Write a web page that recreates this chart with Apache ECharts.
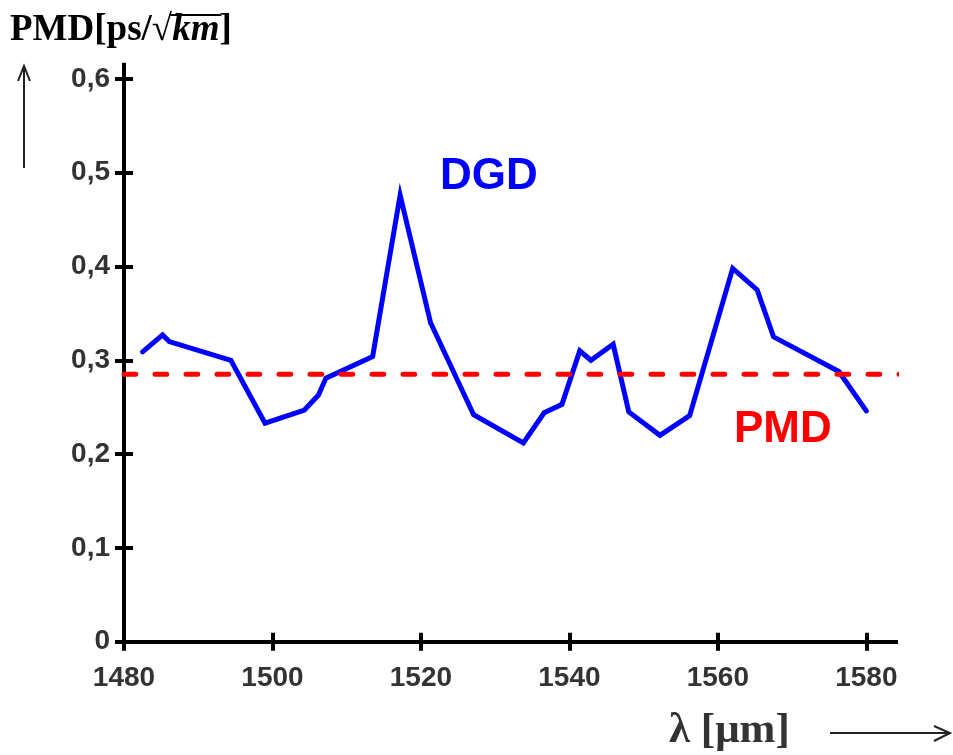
<!DOCTYPE html>
<html>
<head>
<meta charset="utf-8">
<script src="https://cdn.jsdelivr.net/npm/echarts@6/dist/echarts.min.js"></script>
<style>
  html, body { margin: 0; padding: 0; background: #fff; }
  #chart { width: 953px; height: 755px; }
</style>
</head>
<body>
<div id="chart"></div>
<script>
// Wavelength samples (as labelled on the axis) and measured DGD values
const wavelengths = [1482.5, 1485.2, 1486.1, 1494.4, 1499.0, 1504.3, 1506.2, 1507.2, 1513.5,
  1517.2, 1521.3, 1527.1, 1533.8, 1536.6, 1539.0, 1541.4, 1542.9, 1545.9, 1548.0,
  1552.2, 1556.2, 1562.0, 1565.3, 1567.5, 1576.3, 1580.0];
const dgdValues = [0.309, 0.327, 0.320, 0.300, 0.233, 0.247, 0.263, 0.281, 0.304,
  0.476, 0.340, 0.242, 0.212, 0.244, 0.253, 0.310, 0.300, 0.317, 0.245,
  0.220, 0.241, 0.398, 0.375, 0.325, 0.288, 0.246];

// Mean PMD level and the wavelength span of its reference line
const pmdValue = 0.285;
const pmdSpan = [1480, 1584.5];

// Tick positions
const xTicks = [1480, 1500, 1520, 1540, 1560, 1580];
const yTicks = [0, 0.1, 0.2, 0.3, 0.4, 0.5, 0.6];

const AXIS_BLACK = '#000';
const LABEL_GREY = '#333';

const chart = echarts.init(document.getElementById('chart'), null, { renderer: 'canvas' });

// Ticks cross the axis line: one axis draws them outward, a twin draws them inward
function xAxisDef(inside) {
  return {
    type: 'value', position: 'bottom', min: 1480, max: 1584,
    splitLine: { show: false },
    axisLine: { show: !inside, onZero: false, lineStyle: { color: AXIS_BLACK, width: 4, cap: 'square' } },
    axisTick: { show: true, inside: inside, length: 9, customValues: xTicks,
      lineStyle: { color: AXIS_BLACK, width: 4 } },
    axisLabel: { show: !inside, customValues: xTicks, margin: 23, color: LABEL_GREY,
      fontFamily: '"Liberation Sans", Arial, sans-serif', fontWeight: 'bold', fontSize: 28,
      formatter: v => String(v) }
  };
}
function yAxisDef(inside) {
  return {
    type: 'value', position: 'left', min: 0, max: 0.615,
    splitLine: { show: false },
    axisLine: { show: !inside, onZero: false, lineStyle: { color: AXIS_BLACK, width: 4, cap: 'square' } },
    axisTick: { show: true, inside: inside, length: 9, customValues: yTicks,
      lineStyle: { color: AXIS_BLACK, width: 4 } },
    axisLabel: { show: !inside, customValues: yTicks, margin: 14, color: LABEL_GREY,
      fontFamily: '"Liberation Sans", Arial, sans-serif', fontWeight: 'bold', fontSize: 28,
      formatter: v => (v === 0 ? '0' : v.toFixed(1).replace('.', ',')) }
  };
}

// Measure the y-axis title so the radical's bar spans "km"
const TITLE_SIZE = 37;
const TITLE_X = 10, TITLE_Y = 12;
const mctx = document.createElement('canvas').getContext('2d');
mctx.font = 'bold ' + TITLE_SIZE + 'px "Liberation Serif"';
const wHead = mctx.measureText('PMD[ps/\u221A').width;
mctx.font = 'italic bold ' + TITLE_SIZE + 'px "Liberation Serif"';
const wKm = mctx.measureText('km').width;

const option = {
  backgroundColor: '#fff',
  animation: false,
  grid: { left: 124, top: 64.8, width: 772, height: 576.9, containLabel: false },
  xAxis: [xAxisDef(false), xAxisDef(true)],
  yAxis: [yAxisDef(false), yAxisDef(true)],
  series: [
    {
      name: 'DGD', type: 'line', xAxisIndex: 0, yAxisIndex: 0,
      data: wavelengths.map((w, i) => [w, dgdValues[i]]),
      showSymbol: false, symbol: 'none', z: 3,
      lineStyle: { color: '#0000ff', width: 5, join: 'miter', cap: 'round' }
    },
    {
      name: 'PMD', type: 'line', xAxisIndex: 0, yAxisIndex: 0, clip: false,
      data: pmdSpan.map(w => [w, pmdValue]),
      showSymbol: false, symbol: 'none', z: 4,
      lineStyle: { color: '#ff0000', width: 5, type: [11.7, 19.3], cap: 'round' }
    }
  ],
  graphic: [
    // y-axis title with square root
    {
      type: 'text', left: TITLE_X, top: TITLE_Y,
      style: {
        text: '{a|PMD[ps/\u221A}{b|km}{a|]}',
        rich: {
          a: { fontFamily: '"Liberation Serif", "Times New Roman", serif', fontWeight: 'bold', fontSize: TITLE_SIZE, fill: '#000' },
          b: { fontFamily: '"Liberation Serif", "Times New Roman", serif', fontWeight: 'bold', fontStyle: 'italic', fontSize: TITLE_SIZE, fill: '#000' }
        }
      }
    },
    {
      type: 'line',
      shape: { x1: TITLE_X + wHead - 3, y1: TITLE_Y + 3, x2: TITLE_X + wHead + wKm + 2, y2: TITLE_Y + 3 },
      style: { stroke: '#000', lineWidth: 2 }
    },
    // upward arrow beside the y axis
    {
      type: 'polyline', shape: { points: [[24, 168], [24, 66]] },
      style: { stroke: '#222', lineWidth: 2, fill: null }
    },
    {
      type: 'polyline', shape: { points: [[18, 81], [24, 66], [30, 81]] },
      style: { stroke: '#222', lineWidth: 2, fill: null }
    },
    // x-axis title and arrow
    {
      type: 'text', left: 669, top: 709,
      style: { text: '\u03BB [\u03BCm]', fontFamily: '"Liberation Serif", "Times New Roman", serif',
        fontWeight: 'bold', fontSize: 43, fill: LABEL_GREY }
    },
    {
      type: 'polyline', shape: { points: [[830, 733], [950, 733]] },
      style: { stroke: '#222', lineWidth: 2, fill: null }
    },
    {
      type: 'polyline', shape: { points: [[934, 726], [950, 733], [934, 741]] },
      style: { stroke: '#222', lineWidth: 2, fill: null }
    },
    // series names
    {
      type: 'text', left: 440, top: 155,
      style: { text: 'DGD', fontFamily: '"Liberation Sans", Arial, sans-serif', fontWeight: 'bold',
        fontSize: 44, fill: '#0000ff' }
    },
    {
      type: 'text', left: 734, top: 408,
      style: { text: 'PMD', fontFamily: '"Liberation Sans", Arial, sans-serif', fontWeight: 'bold',
        fontSize: 44, fill: '#ff0000' }
    }
  ]
};

chart.setOption(option);
</script>
</body>
</html>
